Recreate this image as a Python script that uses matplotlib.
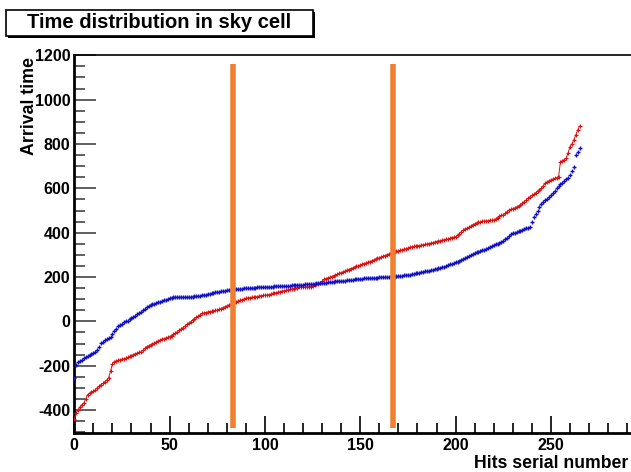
import matplotlib
matplotlib.use("Agg")
import matplotlib.pyplot as plt
from matplotlib.patches import Rectangle
from matplotlib.ticker import MultipleLocator

# ---- data ----
red_values = [
    -440, -413, -400, -385, -375, -368, -350, -330, -325, -320,
    -315, -308, -300, -292, -285, -279, -272, -265, -255, -225,
    -190, -182, -178, -175, -173, -171, -169, -166, -162, -158,
    -154, -150, -146, -143, -140, -137, -130, -122, -114, -110,
    -106, -102, -98, -92, -88, -84, -81, -78, -75, -72,
    -69, -64, -58, -52, -47, -40, -34, -28, -22, -14,
    -8, -2, 6, 12, 18, 24, 30, 36, 38, 40,
    42, 44, 46, 48, 50, 51, 54, 58, 62, 66,
    70, 74, 78, 82, 86, 89, 92, 95, 98, 101,
    104, 106, 107, 108, 109, 110, 112, 114, 116, 117,
    118, 119, 121, 123, 126, 128, 130, 132, 134, 136,
    138, 140, 142, 144, 146, 148, 150, 152, 154, 154,
    155, 155, 156, 156, 157, 160, 164, 167, 170, 172,
    182, 190, 193, 196, 199, 202, 205, 209, 213, 217,
    220, 224, 227, 231, 234, 238, 241, 245, 248, 251,
    254, 257, 261, 264, 267, 270, 273, 277, 280, 284,
    287, 291, 294, 297, 301, 304, 307, 310, 313, 316,
    318, 320, 323, 325, 328, 331, 334, 336, 338, 340,
    341, 342, 344, 345, 347, 349, 351, 353, 355, 358,
    360, 362, 364, 366, 368, 370, 372, 375, 378, 380,
    382, 388, 396, 405, 412, 418, 420, 424, 430, 436,
    440, 444, 447, 449, 451, 452, 453, 454, 455, 456,
    457, 462, 468, 474, 478, 480, 488, 495, 502, 505,
    508, 512, 516, 520, 525, 532, 540, 548, 555, 562,
    568, 574, 580, 586, 592, 600, 612, 622, 630, 634,
    638, 642, 645, 648, 652, 720, 725, 730, 735, 760,
    788, 800, 818, 840, 862, 881,
]
blue_values = [
    -255, -195, -185, -178, -172, -166, -160, -155, -150, -146,
    -141, -136, -129, -115, -99, -92, -86, -80, -75, -69,
    -58, -45, -33, -21, -15, -10, -5, 0, 4, 9,
    14, 20, 26, 32, 38, 43, 50, 57, 64, 70,
    74, 77, 80, 83, 86, 89, 92, 95, 98, 101,
    104, 106, 108, 109, 109, 110, 110, 110, 111, 111,
    111, 112, 112, 113, 114, 115, 116, 117, 119, 121,
    123, 125, 127, 129, 131, 133, 134, 136, 137, 139,
    140, 141, 143, 144, 145, 146, 147, 148, 148, 149,
    150, 150, 151, 151, 152, 152, 153, 153, 154, 154,
    155, 155, 156, 156, 157, 158, 159, 159, 160, 160,
    160, 161, 161, 161, 162, 162, 163, 164, 165, 165,
    166, 167, 167, 168, 169, 170, 170, 171, 172, 172,
    173, 174, 175, 176, 177, 178, 179, 180, 180, 181,
    182, 183, 184, 185, 186, 187, 188, 190, 191, 192,
    193, 193, 194, 194, 195, 195, 196, 196, 197, 197,
    198, 198, 199, 199, 200, 200, 201, 201, 202, 203,
    204, 205, 206, 207, 208, 209, 210, 212, 214, 216,
    217, 219, 221, 223, 225, 227, 229, 231, 233, 236,
    238, 239, 241, 244, 247, 250, 253, 257, 261, 265,
    267, 269, 272, 276, 280, 285, 290, 295, 300, 304,
    308, 311, 314, 316, 320, 324, 328, 332, 336, 340,
    343, 347, 350, 352, 358, 364, 371, 378, 385, 392,
    397, 400, 403, 406, 409, 412, 415, 419, 423, 427,
    450, 469, 485, 500, 517, 528, 538, 546, 554, 562,
    571, 580, 590, 600, 610, 618, 625, 632, 640, 645,
    660, 680, 697, 750, 765, 780,
]
cut_positions = [83, 167]
cut_range = [-480, 1160]

title = "Time distribution in sky cell"
xlabel = "Hits serial number"
ylabel = "Arrival time"

# ---- figure ----
plt.rcParams['font.family'] = ['Liberation Sans', 'DejaVu Sans']
plt.rcParams['axes.unicode_minus'] = False
fig = plt.figure(figsize=(6.31, 4.72), dpi=100)
ax = fig.add_axes([74.3 / 631, 39.3 / 472, 1 - 74.3 / 631, (432.7 - 55.3) / 472])

red_x = list(range(len(red_values)))
blue_x = list(range(len(blue_values)))

ax.plot(red_x, red_values, color='#e01010', lw=0.7, marker='+', ms=2.6, mew=0.8, zorder=3)
ax.plot(blue_x, blue_values, color='#1010c8', lw=0, marker='+', ms=2.6, mew=1.0, zorder=3)

ax.vlines(cut_positions, cut_range[0], cut_range[1], colors='#f08030', lw=4, zorder=4)

ax.set_xlim(0, 292)
ax.set_ylim(-502, 1200)

ax.xaxis.set_major_locator(MultipleLocator(50))
ax.xaxis.set_minor_locator(MultipleLocator(10))
ax.yaxis.set_major_locator(MultipleLocator(200))
ax.yaxis.set_minor_locator(MultipleLocator(50))

ax.tick_params(axis='both', which='both', direction='in', top=False, right=False)
ax.tick_params(axis='y', which='major', length=16, width=1.2, color='#444444',
               labelsize=11.5, pad=3)
ax.tick_params(axis='y', which='minor', length=8, width=1.2, color='#444444')
ax.tick_params(axis='x', which='major', length=12, width=1.2, color='black',
               labelsize=11.5, pad=4)
ax.tick_params(axis='x', which='minor', length=7, width=1.2, color='black')
for lab in ax.get_xticklabels() + ax.get_yticklabels():
    lab.set_fontweight('bold')

ax.spines['left'].set_linewidth(2)
ax.spines['bottom'].set_linewidth(2)
ax.spines['top'].set_linewidth(1.2)
ax.spines['right'].set_visible(False)

fig.text(628 / 631, 1 - 463 / 472, xlabel, ha='right', va='center',
         fontsize=12.7, fontweight='bold')
fig.text(30 / 631, 1 - 57 / 472, ylabel, ha='center', va='top', rotation=90,
         fontsize=12.8, fontweight='bold')

# title box with shadow
bx0, by0, bw, bh = 6, 10, 307, 26
fig.patches.append(Rectangle(((bx0 + 2) / 631, 1 - (by0 + bh + 2) / 472), bw / 631, bh / 472,
                             transform=fig.transFigure, facecolor='black', edgecolor='none', zorder=1))
fig.patches.append(Rectangle((bx0 / 631, 1 - (by0 + bh) / 472), bw / 631, bh / 472,
                             transform=fig.transFigure, facecolor='white', edgecolor='black',
                             lw=1.2, zorder=2))
fig.text((bx0 + bw / 2) / 631, 1 - (by0 + bh / 2) / 472, title, ha='center', va='center',
         fontsize=14.5, fontweight='bold', zorder=3)

fig.savefig('out.png', dpi=100)
